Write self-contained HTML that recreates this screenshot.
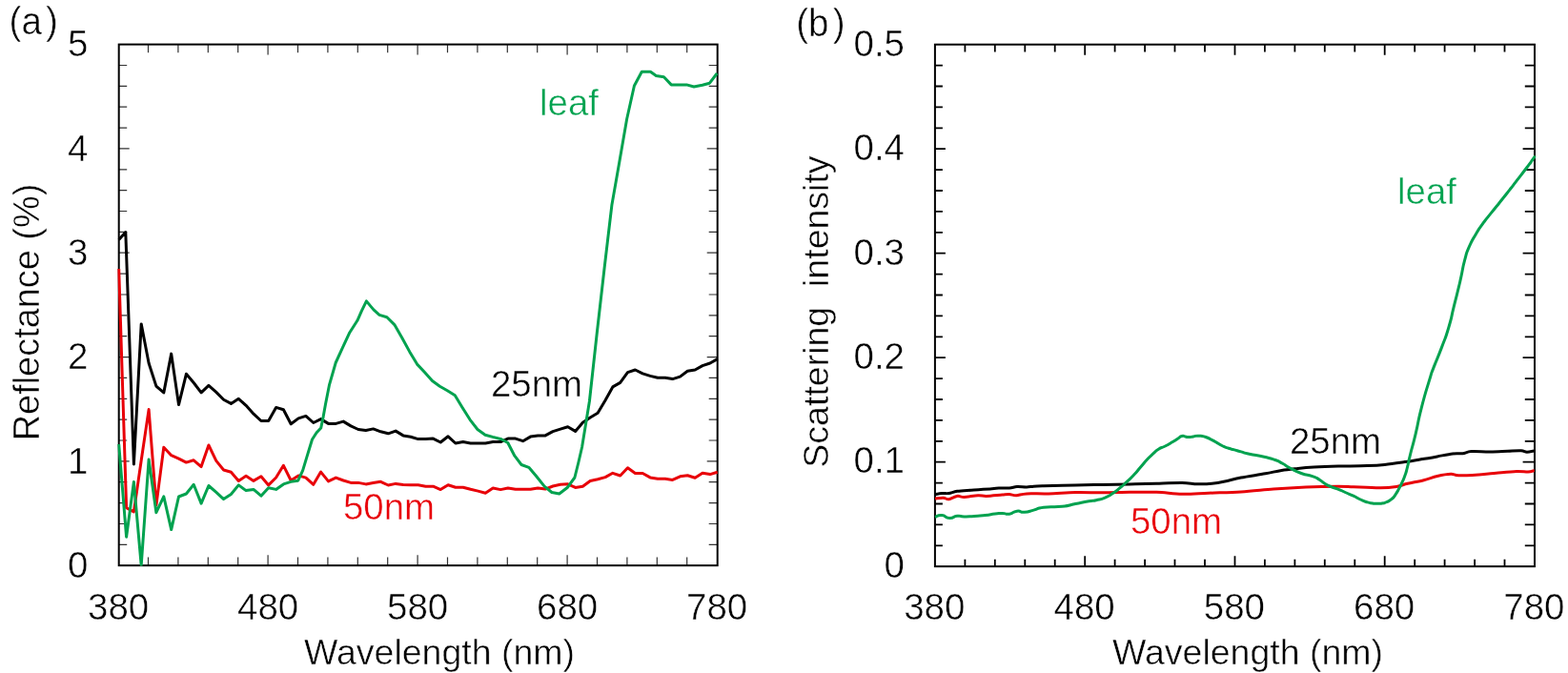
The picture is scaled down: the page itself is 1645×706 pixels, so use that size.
<!DOCTYPE html>
<html><head><meta charset="utf-8"><title>Reflectance and scattering spectra</title>
<style>
html,body{margin:0;padding:0;background:#fff;}
body{width:1645px;height:706px;overflow:hidden;}
svg{display:block;}
text{font-family:"Liberation Sans",Arial,sans-serif;stroke:#fff;stroke-width:0.5px;}
</style></head><body>
<svg width="1645" height="706" viewBox="0 0 1645 706">
<defs>
<clipPath id="cl"><rect x="123.2" y="46.6" width="631.0" height="547.2"/></clipPath>
<clipPath id="cr"><rect x="979.4" y="46.7" width="632.1" height="548.1"/></clipPath>
</defs>
<rect width="1645" height="706" fill="#fff"/>
<path d="M155.5,46.6v8.6M155.5,593.2v-8.6M186.9,46.6v8.6M186.9,593.2v-8.6M218.3,46.6v8.6M218.3,593.2v-8.6M249.7,46.6v8.6M249.7,593.2v-8.6M281.1,46.6v11M281.1,593.2v-11M312.5,46.6v8.6M312.5,593.2v-8.6M343.9,46.6v8.6M343.9,593.2v-8.6M375.3,46.6v8.6M375.3,593.2v-8.6M406.7,46.6v8.6M406.7,593.2v-8.6M438.1,46.6v11M438.1,593.2v-11M469.5,46.6v8.6M469.5,593.2v-8.6M500.9,46.6v8.6M500.9,593.2v-8.6M532.3,46.6v8.6M532.3,593.2v-8.6M563.7,46.6v8.6M563.7,593.2v-8.6M595.1,46.6v11M595.1,593.2v-11M626.5,46.6v8.6M626.5,593.2v-8.6M657.9,46.6v8.6M657.9,593.2v-8.6M689.3,46.6v8.6M689.3,593.2v-8.6M720.7,46.6v8.6M720.7,593.2v-8.6M124.7,571.3h8.5M752.7,571.3h-9M124.7,549.5h8.5M752.7,549.5h-9M124.7,527.6h8.5M752.7,527.6h-9M124.7,505.7h8.5M752.7,505.7h-9M124.7,483.9h11M752.7,483.9h-11M124.7,462.0h8.5M752.7,462.0h-9M124.7,440.2h8.5M752.7,440.2h-9M124.7,418.3h8.5M752.7,418.3h-9M124.7,396.4h8.5M752.7,396.4h-9M124.7,374.6h11M752.7,374.6h-11M124.7,352.7h8.5M752.7,352.7h-9M124.7,330.8h8.5M752.7,330.8h-9M124.7,309.0h8.5M752.7,309.0h-9M124.7,287.1h8.5M752.7,287.1h-9M124.7,265.2h11M752.7,265.2h-11M124.7,243.4h8.5M752.7,243.4h-9M124.7,221.5h8.5M752.7,221.5h-9M124.7,199.6h8.5M752.7,199.6h-9M124.7,177.8h8.5M752.7,177.8h-9M124.7,155.9h11M752.7,155.9h-11M124.7,134.1h8.5M752.7,134.1h-9M124.7,112.2h8.5M752.7,112.2h-9M124.7,90.3h8.5M752.7,90.3h-9M124.7,68.5h8.5M752.7,68.5h-9" stroke="#333" stroke-width="1.2" fill="none"/>
<path d="M1012.4,46.7v7.7M1012.4,594.2v-7.5M1043.8,46.7v7.7M1043.8,594.2v-7.5M1075.3,46.7v7.7M1075.3,594.2v-7.5M1106.7,46.7v7.7M1106.7,594.2v-7.5M1138.2,46.7v11M1138.2,594.2v-11M1169.6,46.7v7.7M1169.6,594.2v-7.5M1201.1,46.7v7.7M1201.1,594.2v-7.5M1232.5,46.7v7.7M1232.5,594.2v-7.5M1264.0,46.7v7.7M1264.0,594.2v-7.5M1295.5,46.7v11M1295.5,594.2v-11M1326.9,46.7v7.7M1326.9,594.2v-7.5M1358.4,46.7v7.7M1358.4,594.2v-7.5M1389.8,46.7v7.7M1389.8,594.2v-7.5M1421.3,46.7v7.7M1421.3,594.2v-7.5M1452.7,46.7v11M1452.7,594.2v-11M1484.2,46.7v7.7M1484.2,594.2v-7.5M1515.6,46.7v7.7M1515.6,594.2v-7.5M1547.1,46.7v7.7M1547.1,594.2v-7.5M1578.5,46.7v7.7M1578.5,594.2v-7.5M980.9,572.3h8M1610.0,572.3h-10.2M980.9,550.4h8M1610.0,550.4h-10.2M980.9,528.5h8M1610.0,528.5h-10.2M980.9,506.6h8M1610.0,506.6h-10.2M980.9,484.7h11M1610.0,484.7h-12.4M980.9,462.8h8M1610.0,462.8h-10.2M980.9,440.9h8M1610.0,440.9h-10.2M980.9,419.0h8M1610.0,419.0h-10.2M980.9,397.1h8M1610.0,397.1h-10.2M980.9,375.2h11M1610.0,375.2h-12.4M980.9,353.3h8M1610.0,353.3h-10.2M980.9,331.4h8M1610.0,331.4h-10.2M980.9,309.5h8M1610.0,309.5h-10.2M980.9,287.6h8M1610.0,287.6h-10.2M980.9,265.7h11M1610.0,265.7h-12.4M980.9,243.8h8M1610.0,243.8h-10.2M980.9,221.9h8M1610.0,221.9h-10.2M980.9,200.0h8M1610.0,200.0h-10.2M980.9,178.1h8M1610.0,178.1h-10.2M980.9,156.2h11M1610.0,156.2h-12.4M980.9,134.3h8M1610.0,134.3h-10.2M980.9,112.4h8M1610.0,112.4h-10.2M980.9,90.5h8M1610.0,90.5h-10.2M980.9,68.6h8M1610.0,68.6h-10.2" stroke="#000" stroke-width="1.8" fill="none"/>
<rect x="124.7" y="46.6" width="628.0" height="546.6" fill="none" stroke="#000" stroke-width="2"/>
<rect x="980.9" y="46.7" width="629.1" height="547.5" fill="none" stroke="#000" stroke-width="2"/>
<g clip-path="url(#cl)">
<polyline points="124.7,251.5 131.8,243.6 140.4,487.0 148.2,339.9 156.1,381.0 163.9,405.1 171.8,411.9 179.7,371.1 187.5,424.6 195.4,392.3 203.2,401.5 211.1,411.9 218.9,404.4 226.8,411.4 234.6,419.2 242.4,423.4 250.3,418.3 258.1,425.3 266.0,434.2 273.9,441.5 281.7,441.5 289.6,427.4 297.4,429.7 305.2,444.8 313.1,438.9 320.9,436.4 328.8,443.5 336.6,439.6 344.5,444.4 352.4,444.4 360.2,442.1 368.1,446.9 375.9,450.5 383.8,451.5 391.6,449.9 399.4,452.8 407.3,454.8 415.1,452.1 423.0,456.9 430.8,458.3 438.7,460.6 446.6,460.6 454.4,460.1 462.2,464.0 470.1,457.8 477.9,465.0 485.8,463.6 493.6,464.9 501.5,464.9 509.3,464.9 517.2,463.6 525.1,463.6 532.9,460.1 540.8,460.1 548.6,462.7 556.5,458.1 564.3,456.9 572.1,456.9 580.0,452.6 587.9,450.1 595.7,447.8 603.6,452.4 611.4,443.3 619.2,438.0 627.1,433.3 635.0,419.9 642.8,405.9 650.7,401.4 658.5,390.6 666.4,388.0 674.2,391.9 682.1,394.4 689.9,396.3 697.8,396.3 705.6,397.6 713.5,395.1 721.3,389.3 729.2,388.0 737.0,383.6 744.9,381.0 752.7,376.6" fill="none" stroke="#000" stroke-width="3" stroke-linejoin="round"/>
<polyline points="124.7,282.0 132.6,532.7 140.4,536.9 148.2,483.0 156.1,429.6 163.9,530.0 171.8,469.3 179.7,477.7 187.5,481.1 195.4,485.1 203.2,482.8 211.1,489.6 218.9,467.0 226.8,483.4 234.6,493.0 242.4,495.3 250.3,504.4 258.1,499.3 266.0,504.4 273.9,499.8 281.7,508.9 289.6,501.0 297.4,488.3 305.2,504.0 313.1,498.9 320.9,501.1 328.8,508.3 336.6,495.1 344.5,504.9 352.4,501.1 360.2,504.0 368.1,506.4 375.9,506.4 383.8,507.9 391.6,506.6 399.4,505.3 407.3,509.0 415.1,507.4 423.0,508.5 430.8,508.7 438.7,508.7 446.6,510.2 454.4,510.2 462.2,513.6 470.1,508.7 477.9,511.2 485.8,511.2 493.6,513.3 501.5,515.1 509.3,517.2 517.2,512.0 525.1,513.6 532.9,512.0 540.8,513.3 548.6,513.3 556.5,513.3 564.3,512.0 572.1,513.1 580.0,510.0 587.9,508.3 595.7,507.8 603.6,511.4 611.4,510.3 619.2,504.5 627.1,502.8 635.0,500.6 642.8,496.3 650.7,499.0 658.5,490.8 666.4,496.5 674.2,496.5 682.1,500.9 689.9,502.3 697.8,502.3 705.6,503.4 713.5,499.8 721.3,498.7 729.2,501.2 737.0,496.3 744.9,497.6 752.7,495.2" fill="none" stroke="#e80008" stroke-width="3" stroke-linejoin="round"/>
<polyline points="124.7,466.0 132.6,563.2 140.4,505.5 148.2,593.0 156.1,482.0 163.9,537.7 171.8,520.8 179.7,555.6 187.5,521.0 195.4,518.0 203.2,508.3 211.1,528.1 218.9,509.5 226.8,516.3 234.6,523.6 242.4,518.5 250.3,508.9 258.1,514.6 266.0,513.4 273.9,520.2 281.7,511.7 289.6,513.4 297.4,507.9 305.2,505.3 312.7,504.2 317.6,493.6 321.9,479.4 327.5,461.0 332.0,454.0 336.7,449.0 338.9,438.4 341.5,424.0 345.4,404.2 352.2,380.5 359.0,365.7 366.9,348.7 374.9,336.3 379.4,326.1 384.4,315.9 391.9,324.9 398.0,330.4 405.9,332.7 413.8,340.6 421.7,354.2 429.7,368.9 437.6,382.1 445.5,390.5 453.5,399.5 461.4,405.2 469.3,409.7 477.3,414.7 485.2,427.8 493.1,440.3 501.0,450.5 509.0,456.2 516.9,458.4 526.0,460.7 532.8,464.5 539.9,478.2 547.0,487.5 554.8,490.3 562.6,499.5 571.1,510.1 578.9,516.5 586.7,518.0 595.2,511.5 602.9,501.0 606.9,485.0 610.6,469.0 618.4,421.0 626.2,350.0 634.1,281.0 641.9,215.0 649.8,170.0 657.6,125.0 665.4,90.0 673.3,75.3 682.4,75.3 688.4,79.5 696.5,80.8 704.2,88.9 712.2,88.9 720.3,88.9 728.0,91.0 736.9,89.3 744.5,87.2 752.2,77.0" fill="none" stroke="#00a24f" stroke-width="3" stroke-linejoin="round"/>
</g>
<g clip-path="url(#cr)">
<path d="M981.0,518.6C982.2,518.4 985.7,517.7 988.1,517.5C990.5,517.3 992.7,517.9 995.4,517.5C998.1,517.1 1000.3,515.9 1004.2,515.3C1008.1,514.8 1012.7,514.6 1018.8,514.2C1024.9,513.8 1035.8,513.2 1040.6,512.8C1045.4,512.4 1044.9,512.1 1047.9,512.0C1051.0,511.9 1055.7,512.2 1058.9,512.0C1062.1,511.8 1063.9,510.8 1066.9,510.6C1069.9,510.4 1074.2,511.0 1077.1,510.9C1080.0,510.8 1081.4,510.4 1084.4,510.2C1087.4,510.0 1087.7,510.0 1095.0,509.8C1102.3,509.6 1117.7,509.3 1128.0,509.1C1138.3,508.9 1147.1,508.6 1156.6,508.4C1166.1,508.2 1175.5,508.2 1185.0,508.0C1194.5,507.8 1204.1,507.4 1213.3,507.2C1222.5,506.9 1233.1,506.4 1240.2,506.5C1247.3,506.6 1250.9,507.7 1256.1,507.8C1261.3,507.9 1266.6,507.8 1271.4,507.3C1276.2,506.8 1279.9,506.1 1285.0,505.0C1290.1,503.9 1294.9,502.4 1302.0,501.0C1309.1,499.6 1320.4,498.1 1327.5,496.8C1334.6,495.5 1338.8,494.3 1344.5,493.4C1350.2,492.5 1355.8,492.0 1361.5,491.4C1367.2,490.8 1371.4,490.4 1378.5,490.0C1385.6,489.6 1394.7,489.3 1404.0,489.1C1413.3,488.9 1426.1,488.9 1434.2,488.6C1442.3,488.3 1446.0,488.1 1452.6,487.4C1459.2,486.7 1467.4,485.5 1473.8,484.6C1480.2,483.7 1485.1,482.8 1490.8,481.8C1496.5,480.9 1502.2,479.9 1507.8,478.9C1513.3,477.9 1519.6,476.5 1524.1,476.0C1528.5,475.5 1531.2,476.1 1534.5,475.7C1537.8,475.3 1538.8,473.9 1543.6,473.6C1548.4,473.3 1557.2,474.0 1563.6,473.9C1570.0,473.8 1576.5,473.4 1581.9,473.2C1587.3,473.0 1592.6,472.6 1595.9,472.8C1599.2,473.0 1599.6,474.2 1601.9,474.2C1604.2,474.2 1608.2,473.2 1609.5,473.0" fill="none" stroke="#000" stroke-width="3" stroke-linejoin="round"/>
<path d="M981.0,523.0C982.4,522.9 987.2,522.1 989.6,522.2C992.0,522.3 993.0,524.0 995.4,523.7C997.8,523.4 1001.5,520.8 1004.2,520.4C1006.9,520.0 1007.9,521.6 1011.5,521.5C1015.1,521.4 1022.2,519.9 1026.1,519.7C1030.0,519.5 1030.5,520.5 1034.8,520.4C1039.0,520.3 1047.6,519.3 1051.6,519.0C1055.6,518.7 1056.5,518.5 1058.9,518.6C1061.3,518.7 1063.2,519.8 1066.2,519.7C1069.2,519.6 1071.5,518.2 1077.1,517.9C1082.7,517.6 1091.5,518.1 1100.0,517.9C1108.5,517.7 1118.9,516.7 1128.3,516.5C1137.7,516.3 1147.1,516.8 1156.6,516.8C1166.0,516.8 1175.5,516.4 1185.0,516.3C1194.5,516.2 1204.1,516.0 1213.3,516.3C1222.5,516.6 1231.1,518.2 1240.2,518.3C1249.3,518.5 1257.7,517.6 1268.0,517.2C1278.3,516.8 1290.7,516.7 1302.0,516.0C1313.3,515.3 1324.7,513.9 1336.0,513.0C1347.3,512.1 1358.7,511.4 1370.0,510.9C1381.3,510.4 1395.7,510.2 1404.0,510.2C1412.3,510.2 1412.6,510.5 1420.0,510.8C1427.4,511.1 1440.8,511.9 1448.3,511.8C1455.8,511.7 1460.6,511.1 1465.3,510.4C1470.0,509.6 1472.0,508.4 1476.7,507.3C1481.4,506.2 1488.5,505.0 1493.7,503.7C1498.9,502.4 1503.0,500.6 1507.8,499.5C1512.6,498.4 1518.6,497.4 1522.3,497.3C1526.0,497.2 1525.3,498.7 1530.2,498.8C1535.1,498.9 1544.9,498.3 1551.5,497.9C1558.1,497.5 1563.1,496.9 1569.7,496.3C1576.3,495.7 1585.4,494.7 1591.0,494.5C1596.6,494.3 1600.0,495.2 1603.1,495.1C1606.2,494.9 1608.7,493.8 1609.8,493.6" fill="none" stroke="#e80008" stroke-width="3" stroke-linejoin="round"/>
<path d="M981.0,542.4C983.4,541.8 983.0,540.2 988.1,540.6C993.2,541.0 990.8,543.3 996.2,543.5C1001.6,543.7 999.1,541.8 1004.2,541.3C1009.3,540.8 1005.6,541.8 1011.5,541.9C1017.4,542.0 1014.7,541.9 1022.0,541.5C1029.3,541.1 1026.1,541.4 1033.4,540.6C1040.7,539.8 1037.9,539.8 1044.0,539.1C1050.1,538.4 1046.6,538.4 1051.6,538.4C1056.6,538.4 1053.8,539.9 1058.9,539.2C1064.0,538.5 1061.6,536.8 1066.9,536.2C1072.2,535.6 1069.1,537.7 1074.9,537.3C1080.7,536.9 1077.7,536.8 1084.4,535.1C1091.1,533.4 1085.1,533.5 1095.0,532.2C1104.9,530.9 1103.1,532.5 1114.2,531.3C1125.3,530.1 1118.9,530.4 1128.3,528.5C1137.7,526.6 1135.3,527.0 1142.5,525.7C1149.7,524.4 1144.2,526.0 1150.0,524.7C1155.8,523.4 1154.0,524.3 1159.9,521.8C1165.8,519.3 1162.8,520.6 1167.8,517.3C1172.8,514.0 1170.2,515.7 1174.8,511.9C1179.4,508.1 1176.7,510.5 1181.7,505.9C1186.7,501.3 1184.7,503.3 1189.7,498.0C1194.7,492.7 1192.0,495.3 1196.6,490.0C1201.2,484.7 1199.2,486.7 1203.5,482.1C1207.8,477.5 1205.5,479.8 1209.5,476.2C1213.5,472.6 1211.1,473.9 1215.4,471.2C1219.7,468.5 1217.4,470.6 1222.4,468.0C1227.4,465.4 1225.9,466.1 1230.3,463.5C1234.7,460.9 1232.3,462.3 1235.5,460.3C1238.7,458.3 1237.2,458.2 1239.9,457.5C1242.6,456.8 1241.0,457.7 1243.5,458.1C1246.0,458.5 1244.5,458.7 1247.3,458.6C1250.1,458.5 1248.6,458.4 1252.0,457.9C1255.4,457.4 1253.4,457.1 1257.5,457.2C1261.6,457.3 1259.6,456.8 1264.3,458.3C1269.0,459.8 1267.5,459.6 1271.7,461.7C1275.9,463.8 1273.2,462.5 1277.0,464.6C1280.8,466.7 1279.0,466.1 1283.0,468.0C1287.0,469.9 1285.0,469.0 1289.0,470.3C1293.0,471.6 1290.7,470.7 1295.0,471.9C1299.3,473.1 1296.8,472.5 1302.0,473.9C1307.2,475.3 1302.5,474.4 1310.6,476.2C1318.7,478.0 1317.1,477.2 1326.2,479.3C1335.3,481.4 1331.3,480.2 1337.8,482.5C1344.3,484.8 1340.4,483.5 1345.6,486.3C1350.8,489.1 1346.9,487.6 1353.4,491.0C1359.9,494.4 1357.3,493.6 1365.1,496.5C1372.9,499.4 1370.3,497.3 1376.8,499.6C1383.3,501.9 1379.4,500.4 1384.6,503.5C1389.8,506.6 1386.3,505.8 1392.4,508.9C1398.5,512.0 1396.7,510.3 1403.0,512.8C1409.3,515.3 1405.7,514.0 1411.3,516.5C1416.9,519.0 1414.5,517.7 1419.8,520.2C1425.1,522.7 1422.5,521.8 1427.2,524.0C1431.9,526.2 1429.7,525.4 1434.0,526.7C1438.3,528.0 1436.2,527.4 1440.0,527.9C1443.8,528.4 1442.0,528.3 1445.3,528.3C1448.6,528.3 1447.2,528.4 1450.0,528.0C1452.8,527.6 1450.6,528.4 1453.8,527.0C1457.0,525.6 1456.1,526.6 1459.5,523.9C1462.9,521.2 1461.2,522.8 1464.0,518.8C1466.8,514.8 1465.7,516.2 1468.0,512.0C1470.3,507.8 1468.9,510.5 1470.8,506.3C1472.7,502.1 1471.8,504.9 1473.7,499.5C1475.6,494.1 1474.6,497.5 1476.5,490.0C1478.4,482.5 1476.6,488.7 1479.5,477.0C1482.4,465.3 1481.3,471.2 1485.2,454.9C1489.1,438.6 1486.4,446.9 1491.2,428.1C1496.0,409.3 1495.4,412.6 1499.7,398.4C1504.0,384.2 1499.7,396.9 1504.0,385.6C1508.3,374.3 1507.2,378.5 1512.5,364.4C1517.8,350.3 1515.7,357.4 1519.9,343.2C1524.1,329.0 1521.7,336.1 1525.2,321.9C1528.7,307.7 1528.0,311.1 1530.5,300.7C1533.0,290.3 1530.7,300.0 1532.8,290.7C1534.9,281.4 1533.8,283.4 1536.7,272.7C1539.6,262.0 1537.4,267.8 1541.4,258.7C1545.4,249.6 1544.2,252.9 1548.6,245.3C1553.0,237.7 1550.7,241.6 1554.7,235.9C1558.7,230.2 1556.0,233.9 1560.6,228.1C1565.2,222.3 1563.2,224.9 1568.4,218.5C1573.6,212.1 1571.0,215.3 1576.2,208.8C1581.4,202.3 1579.3,204.9 1584.0,198.9C1588.7,192.9 1586.2,196.1 1590.2,190.9C1594.2,185.7 1592.1,188.4 1596.0,183.3C1599.9,178.2 1598.3,180.4 1602.0,175.5C1605.7,170.6 1604.2,172.7 1607.0,168.7C1609.8,164.7 1609.3,165.2 1610.5,163.5" fill="none" stroke="#00a24f" stroke-width="3" stroke-linejoin="round"/>
</g>
<text x="92.4" y="605.8" text-anchor="end" fill="#000" font-size="38.5" >0</text>
<text x="92.4" y="496.5" text-anchor="end" fill="#000" font-size="38.5" >1</text>
<text x="92.4" y="387.2" text-anchor="end" fill="#000" font-size="38.5" >2</text>
<text x="92.4" y="277.8" text-anchor="end" fill="#000" font-size="38.5" >3</text>
<text x="92.4" y="168.5" text-anchor="end" fill="#000" font-size="38.5" >4</text>
<text x="92.4" y="59.2" text-anchor="end" fill="#000" font-size="38.5" >5</text>
<text x="124.1" y="649.8" text-anchor="middle" fill="#000" font-size="38.5" >380</text>
<text x="281.1" y="649.8" text-anchor="middle" fill="#000" font-size="38.5" >480</text>
<text x="438.1" y="649.8" text-anchor="middle" fill="#000" font-size="38.5" >580</text>
<text x="595.1" y="649.8" text-anchor="middle" fill="#000" font-size="38.5" >680</text>
<text x="752.1" y="649.8" text-anchor="middle" fill="#000" font-size="38.5" >780</text>
<text x="949" y="605.6" text-anchor="end" fill="#000" font-size="38.5" >0</text>
<text x="949" y="496.3" text-anchor="end" fill="#000" font-size="38.5" >0.1</text>
<text x="949" y="387.0" text-anchor="end" fill="#000" font-size="38.5" >0.2</text>
<text x="949" y="277.6" text-anchor="end" fill="#000" font-size="38.5" >0.3</text>
<text x="949" y="168.3" text-anchor="end" fill="#000" font-size="38.5" >0.4</text>
<text x="949" y="59.0" text-anchor="end" fill="#000" font-size="38.5" >0.5</text>
<text x="980.3" y="649.8" text-anchor="middle" fill="#000" font-size="38.5" >380</text>
<text x="1137.6" y="649.8" text-anchor="middle" fill="#000" font-size="38.5" >480</text>
<text x="1294.9" y="649.8" text-anchor="middle" fill="#000" font-size="38.5" >580</text>
<text x="1452.1" y="649.8" text-anchor="middle" fill="#000" font-size="38.5" >680</text>
<text x="1609.4" y="649.8" text-anchor="middle" fill="#000" font-size="38.5" >780</text>
<text x="461" y="696.7" text-anchor="middle" fill="#000" font-size="37.5" >Wavelength (nm)</text>
<text x="1309" y="696.7" text-anchor="middle" fill="#000" font-size="37.5" >Wavelength (nm)</text>
<text x="41.4" y="327.5" text-anchor="middle" fill="#000" font-size="37.9" transform="rotate(-90 41.4 327.5)">Reflectance (%)</text>
<text x="868.7" y="327" text-anchor="middle" fill="#000" font-size="37.5" transform="rotate(-90 868.7 327)">Scattering&#160; intensity</text>
<text transform="translate(9.6,35.9) scale(1,1.04)" font-size="38.6">(a<tspan dx="4.2">)</tspan></text>
<text transform="translate(835.2,37.9) scale(1,1.04)" font-size="38.6">(b<tspan dx="4.2">)</tspan></text>
<text x="566" y="120.9" text-anchor="start" fill="#00a24f" font-size="38.4" >leaf</text>
<text x="1466" y="213.6" text-anchor="start" fill="#00a24f" font-size="38.4" >leaf</text>
<text x="515" y="415.7" text-anchor="start" fill="#000" font-size="38.4" >25nm</text>
<text x="1353" y="475.7" text-anchor="start" fill="#000" font-size="38.4" >25nm</text>
<text x="360" y="544.8" text-anchor="start" fill="#e80008" font-size="38.4" >50nm</text>
<text x="1186" y="560.1" text-anchor="start" fill="#e80008" font-size="38.4" >50nm</text>
</svg>
</body></html>
